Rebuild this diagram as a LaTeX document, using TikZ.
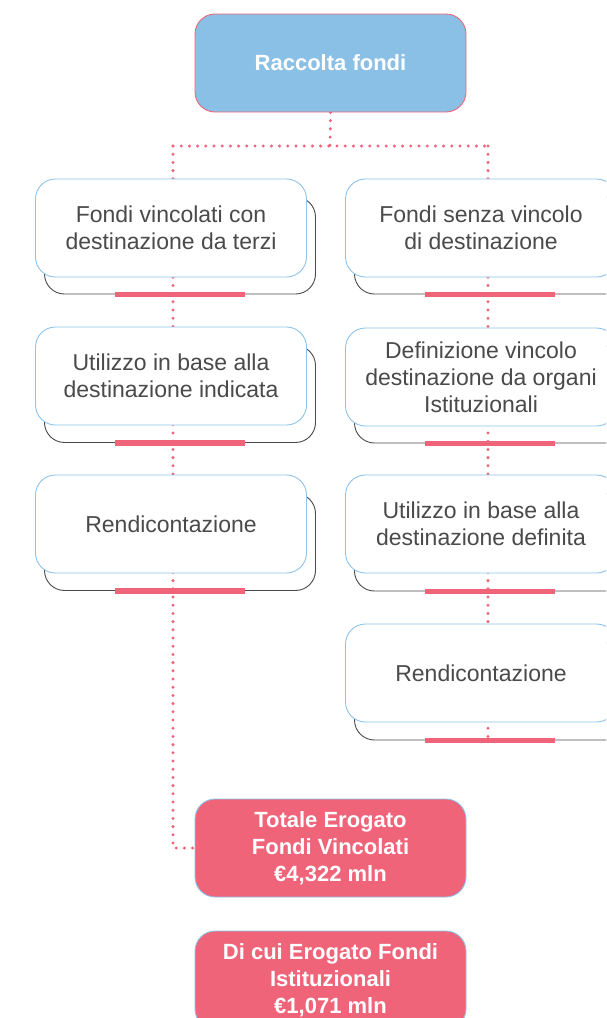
\documentclass[tikz,border=0pt]{standalone}
\usepackage{fontspec}
\setmainfont{Liberation Sans}
\usetikzlibrary{backgrounds}
\definecolor{pinkc}{HTML}{EF6479}
\definecolor{bluefill}{HTML}{8BC0E6}
\definecolor{blueline}{HTML}{8EC4EC}
\definecolor{backline}{HTML}{4A4A4A}
\definecolor{txt}{HTML}{4A4A4A}
\begin{document}
\begin{tikzpicture}[x=1pt,y=-1pt,
  frontbox/.style={draw=blueline, line width=0.9pt, fill=white, rounded corners=20pt,
    minimum width=271pt, minimum height=98pt, align=center, text=txt,
    font=\fontsize{23}{27}\selectfont, inner sep=0pt},
  backbox/.style={draw=backline, line width=0.9pt, rounded corners=20pt,
    minimum width=271pt, minimum height=97pt, inner sep=0pt},
  headbox/.style={draw=pinkc, line width=0.9pt, fill=bluefill, rounded corners=20pt,
    minimum width=271pt, minimum height=98pt, align=center, text=white,
    font=\fontsize{22}{27}\selectfont\bfseries, inner sep=0pt},
  totbox/.style={draw=blueline, line width=0.9pt, fill=pinkc, rounded corners=20pt,
    minimum width=271pt, minimum height=98pt, align=center, text=white,
    font=\fontsize{22}{27}\selectfont\bfseries, inner sep=0pt},
  dots/.style={draw=pinkc, line width=3.3pt, line cap=round, dash pattern=on 0pt off 8.2pt},
  bar/.style={draw=pinkc, line width=5.5pt}
]
\useasboundingbox (0,0) rectangle (606,1018);
\clip (0,0) rectangle (606,1018);

% header
\node[headbox] (top) at (330.5,63) {Raccolta fondi};

% left column
\node[backbox] (lb1) at (180,245.5) {};
\node[backbox] (lb2) at (180,394) {};
\node[backbox] (lb3) at (180,542) {};
\node[frontbox] (lf1) at (171,228) {Fondi vincolati con\\destinazione da terzi};
\node[frontbox] (lf2) at (171,376) {Utilizzo in base alla\\destinazione indicata};
\node[frontbox] (lf3) at (171,524) {Rendicontazione};

% right column
\node[backbox] (rb1) at (490,245.5) {};
\node[backbox] (rb2) at (490,394.5) {};
\node[backbox] (rb3) at (490,542.5) {};
\node[backbox] (rb4) at (490,691.5) {};
\node[frontbox] (rf1) at (481,228) {Fondi senza vincolo\\di destinazione};
\node[frontbox] (rf2) at (481,377) {Definizione vincolo\\destinazione da organi\\Istituzionali};
\node[frontbox] (rf3) at (481,524) {Utilizzo in base alla\\destinazione definita};
\node[frontbox] (rf4) at (481,673) {Rendicontazione};

% totals
\node[totbox] (tot) at (330.5,848) {Totale Erogato\\Fondi Vincolati\\€4,322 mln};
\node[totbox] (ist) at (330.5,980) {Di cui Erogato Fondi\\Istituzionali\\€1,071 mln};

% pink bars
\foreach \b in {lb1,lb2,lb3,rb1,rb2,rb3,rb4}{
  \draw[bar] ([xshift=-65pt]\b.south) -- ([xshift=65pt]\b.south);
}

% connectors
\coordinate (j) at (330,146);
\coordinate (jl) at (173,146);
\coordinate (jr) at (488,146);
\coordinate (rend) at (488,742);
\begin{scope}[on background layer]
  \draw[dots] (top.south) -- (j);
  \draw[dots] (jl) -- (jr);
  \draw[dots] (jl) |- (tot.west);
  \draw[dots] (jr) -- (rend);
\end{scope}
\end{tikzpicture}
\end{document}
